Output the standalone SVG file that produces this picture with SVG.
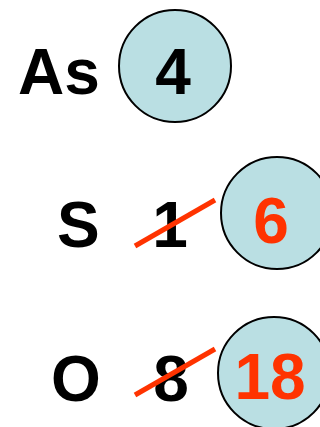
<svg xmlns="http://www.w3.org/2000/svg" width="320" height="427" viewBox="0 0 320 427">
<style>
.c{fill:#BADFE3;stroke:#000;stroke-width:2}
.t{font-family:"Liberation Sans",Arial,sans-serif;font-weight:bold;font-size:64px;fill:#000}
.r{fill:#FF3300}
.s{stroke:#FF3300;stroke-width:5;stroke-linecap:butt}
</style>
<rect width="320" height="427" fill="#fff"/>
<g id="as">
<text class="t" x="18" y="94">As</text>
<circle class="c" cx="175" cy="66" r="56"/>
<text class="t" x="173" y="94" text-anchor="middle">4</text>
</g>
<g id="s">
<text class="t" x="57" y="247">S</text>
<text class="t" x="170" y="247" text-anchor="middle">1</text>
<circle class="c" cx="277" cy="213" r="56"/>
<text class="t r" x="271" y="243" text-anchor="middle">6</text>
</g>
<g id="o">
<text class="t" x="51" y="401">O</text>
<text class="t" x="171" y="401" text-anchor="middle">8</text>
<circle class="c" cx="274" cy="373" r="56"/>
<text class="t r" x="270" y="399" text-anchor="middle">18</text>
</g>
<g id="connectors">
<line class="s" x1="135" y1="246" x2="215" y2="200"/>
<line class="s" x1="135" y1="395" x2="215" y2="349"/>
</g>
</svg>
